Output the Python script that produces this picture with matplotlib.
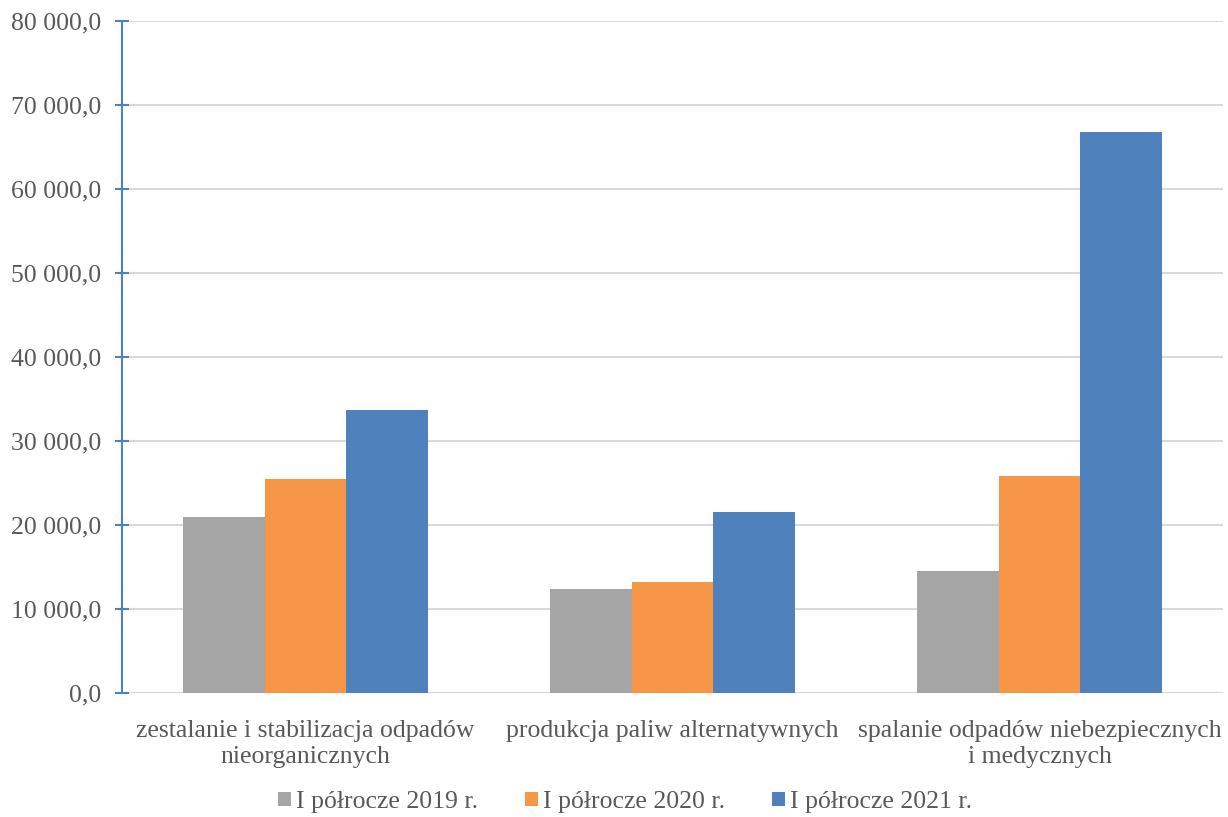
import numpy as np
from matplotlib import pyplot as plt
from matplotlib.ticker import FuncFormatter, MultipleLocator

categories = ["zestalanie i stabilizacja odpadów\nnieorganicznych",
              "produkcja paliw alternatywnych",
              "spalanie odpadów niebezpiecznych\ni medycznych"]
series_names = ["I półrocze 2019 r.", "I półrocze 2020 r.", "I półrocze 2021 r."]
values_2019 = [20950.0, 12350.0, 14550.0]
values_2020 = [25450.0, 13270.0, 25850.0]
values_2021 = [33720.0, 21560.0, 66800.0]
colors = ["#A5A5A5", "#F79646", "#4F81BD"]

plt.rcParams['font.family'] = ['Liberation Serif', 'DejaVu Serif']
text_col = "#595959"
fs = 18.5


def pl_fmt(v, pos):
    return f"{v:,.1f}".replace(",", " ").replace(".", ",")


fig = plt.figure(figsize=(12.28, 8.17), dpi=100)
ax = fig.add_axes([0.0993, 0.1514, 0.8966, 0.8233])

x = np.arange(len(categories))
w = 0.222
for i, (vals, name) in enumerate(zip([values_2019, values_2020, values_2021], series_names)):
    ax.bar(x + (i - 1) * w, vals, w, color=colors[i], label=name, zorder=3)

ax.set_xlim(-0.5, 2.5)
ax.set_ylim(0, 80000)
ax.yaxis.set_major_locator(MultipleLocator(10000))
ax.yaxis.set_major_formatter(FuncFormatter(pl_fmt))
ax.grid(axis="y", color="#D9D9D9", linewidth=1.5, zorder=0)

for s in ["top", "right", "bottom"]:
    ax.spines[s].set_visible(False)
ax.spines["left"].set_color("#4F81BD")
ax.spines["left"].set_linewidth(1.5)
ax.tick_params(axis="y", direction="inout", length=10, width=1.5, color="#4F81BD",
               labelsize=fs, labelcolor=text_col, pad=10)
ax.set_xticks(x)
ax.set_xticklabels(categories, fontsize=fs, color=text_col, linespacing=1.25)
ax.tick_params(axis="x", length=0, pad=19)

fig.legend(loc="center", bbox_to_anchor=(0.509, 0.018), ncol=3, frameon=False,
           fontsize=fs, labelcolor=text_col, handlelength=0.5, handleheight=0.5,
           handletextpad=0.2, columnspacing=1.83)

fig.savefig("out.png", dpi=100)
